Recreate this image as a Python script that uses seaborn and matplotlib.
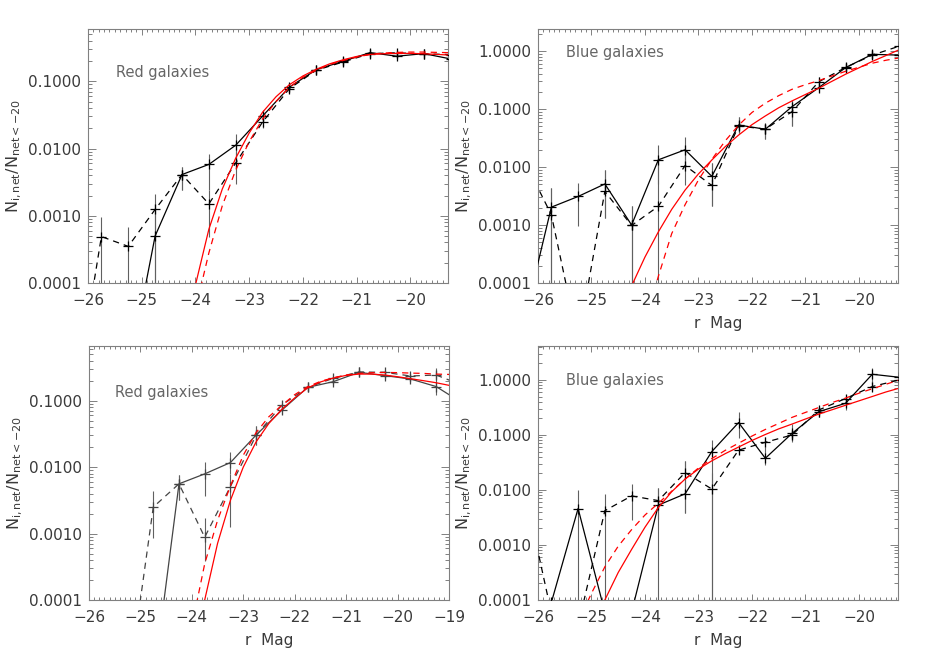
import matplotlib

matplotlib.use('Agg')
import matplotlib.pyplot as plt
from matplotlib.ticker import MultipleLocator, LogLocator, FormatStrFormatter, NullFormatter
import numpy as np
import seaborn as sns

nan = np.nan

# bin centres of the measured fractions
mags = [-26.25, -25.75, -25.25, -24.75, -24.25, -23.75, -23.25, -22.75,
        -22.25, -21.75, -21.25, -20.75, -20.25, -19.75, -19.25, -18.75]

# grid on which the fitted curves are read
fit_mags = [-26.0, -25.75, -25.5, -25.25, -25.0, -24.75, -24.5, -24.25, -24.0,
            -23.75, -23.5, -23.25, -23.0, -22.75, -22.5, -22.25, -22.0, -21.75,
            -21.5, -21.25, -21.0, -20.75, -20.5, -20.25, -20.0, -19.75, -19.5,
            -19.25, -19.0]

# ---- top left: red galaxies
tl_solid = [nan, nan, 4.4e-6, 5.0e-4, 4.1e-3, 5.8e-3, 1.12e-2, 3.04e-2, 8.2e-2, 0.149, 0.199, 0.267, 0.236, 0.258, 0.215, nan]
tl_solid_lo = [nan, nan, nan, 1e-6, 2.4e-3, 2.4e-3, 7.5e-3, 2.6e-2, 6.9e-2, 0.134, 0.18, 0.24, 0.215, 0.235, nan, nan]
tl_solid_hi = [nan, nan, nan, 1.5e-3, 5.3e-3, 8.4e-3, 1.66e-2, 3.7e-2, 9.2e-2, 0.163, 0.218, 0.29, 0.26, 0.28, nan, nan]
tl_dash = [1.7e-6, 4.9e-4, 3.5e-4, 1.24e-3, 4.1e-3, 1.5e-3, 6.1e-3, 2.48e-2, 7.8e-2, 0.146, 0.194, 0.258, 0.265, 0.255, 0.25, nan]
tl_dash_lo = [nan, 1e-6, 1e-6, 1e-6, 2.4e-3, 4.8e-4, 3.0e-3, 2.0e-2, 6.6e-2, 0.13, 0.175, 0.235, 0.23, 0.23, nan, nan]
tl_dash_hi = [nan, 9.5e-4, 6.8e-4, 2.1e-3, 5.3e-3, 2.4e-3, 8.9e-3, 3.1e-2, 9.0e-2, 0.16, 0.212, 0.285, 0.29, 0.28, nan, nan]
tl_fit_solid = [nan, nan, nan, nan, nan, nan, nan, 6.3e-6, 9.3e-5, 6.3e-4, 2.5e-3, 7.2e-3, 0.017, 0.0347, 0.0589,
                0.0891, 0.120, 0.151, 0.182, 0.209, 0.234, 0.251, 0.257, 0.260, 0.260, 0.257, 0.251, 0.245, nan]
tl_fit_dash = [nan, nan, nan, nan, nan, nan, nan, nan, 4e-5, 2.8e-4, 1.41e-3, 4.8e-3, 0.0126, 0.0275, 0.050,
               0.0813, 0.115, 0.146, 0.178, 0.204, 0.229, 0.251, 0.263, 0.269, 0.272, 0.272, 0.269, 0.266, nan]

# ---- top right: blue galaxies
tr_solid = [2.4e-5, 2.03e-3, 3.1e-3, 5.1e-3, 1.0e-3, 1.33e-2, 1.98e-2, 6.9e-3, 5.3e-2, 4.48e-2, 0.110, 0.234, 0.517, 0.877, 0.85, nan]
tr_solid_lo = [nan, 1e-6, 9.5e-4, 1.3e-3, 1e-6, 5e-3, 1.0e-2, 2.1e-3, 3.8e-2, 3.1e-2, 5e-2, 0.2, 0.45, 0.75, nan, nan]
tr_solid_hi = [nan, 4.3e-3, 5.3e-3, 8.9e-3, 2.1e-3, 2.4e-2, 3.35e-2, 1.16e-2, 7.4e-2, 5.7e-2, 0.143, 0.27, 0.6, 1.0, nan, nan]
tr_dash = [1.26e-2, 1.5e-3, 1e-5, 3.8e-3, 9.8e-4, 2.1e-3, 1.06e-2, 4.8e-3, 5.1e-2, 4.5e-2, 9.0e-2, 0.296, 0.52, 0.85, 1.21, nan]
tr_dash_lo = [nan, 1e-6, nan, 1.3e-3, 1e-6, 1e-6, 4.9e-3, 2.1e-3, 3.8e-2, 3.1e-2, 5e-2, 0.25, 0.45, 0.75, nan, nan]
tr_dash_hi = [nan, 4.3e-3, nan, 8.9e-3, 2.1e-3, 1.33e-2, 2.0e-2, 1.16e-2, 7.4e-2, 5.7e-2, 0.143, 0.35, 0.6, 1.0, nan, nan]
tr_fit_solid = [nan, nan, nan, nan, nan, nan, 2.5e-5, 8.9e-5, 2.8e-4, 7.6e-4, 1.86e-3, 4.0e-3, 7.6e-3, 0.0132, 0.0224,
                0.0355, 0.0537, 0.0759, 0.105, 0.138, 0.178, 0.229, 0.302, 0.398, 0.513, 0.661, 0.832, 1.05, nan]
tr_fit_dash = [nan, nan, nan, nan, nan, nan, nan, nan, 2e-5, 1.3e-4, 7.1e-4, 2.24e-3, 6.0e-3, 0.0135, 0.0282,
               0.0525, 0.0871, 0.126, 0.170, 0.219, 0.263, 0.309, 0.372, 0.447, 0.525, 0.617, 0.692, 0.759, nan]

# ---- bottom left: red galaxies
bl_solid = [nan, nan, nan, 5.5e-6, 5.6e-3, 7.9e-3, 1.17e-2, 3.04e-2, 7.2e-2, 0.158, 0.193, 0.267, 0.238, 0.212, 0.163, 0.093]
bl_solid_lo = [nan, nan, nan, nan, 3.2e-3, 3.7e-3, 7.9e-3, 2.15e-2, 6.4e-2, 0.14, 0.17, 0.24, 0.215, 0.19, 0.12, nan]
bl_solid_hi = [nan, nan, nan, nan, 7.6e-3, 1.2e-2, 1.7e-2, 4.1e-2, 9.0e-2, 0.18, 0.225, 0.29, 0.265, 0.24, 0.307, nan]
bl_dash = [nan, nan, 4.1e-6, 2.5e-3, 5.6e-3, 8.8e-4, 5.1e-3, 3.0e-2, 8.6e-2, 0.158, 0.217, 0.27, 0.267, 0.235, 0.243, 0.172]
bl_dash_lo = [nan, nan, nan, 8.5e-4, 3.2e-3, 3.8e-4, 1.27e-3, 2.15e-2, 7e-2, 0.14, 0.19, 0.25, 0.24, 0.21, 0.21, nan]
bl_dash_hi = [nan, nan, nan, 4.3e-3, 7.6e-3, 1.7e-3, 7.9e-3, 4.1e-2, 0.1, 0.18, 0.245, 0.29, 0.29, 0.26, 0.28, nan]
bl_fit_solid = [nan, nan, nan, nan, nan, nan, nan, nan, 1.26e-5, 1e-4, 7.1e-4, 3.16e-3, 0.01, 0.024, 0.0457,
                0.0741, 0.110, 0.155, 0.191, 0.219, 0.240, 0.251, 0.251, 0.243, 0.229, 0.214, 0.2, 0.186, 0.170]
bl_fit_dash = [nan, nan, nan, nan, nan, nan, nan, nan, 4e-5, 3.5e-4, 1.58e-3, 5.2e-3, 0.0151, 0.0331, 0.0575,
               0.0851, 0.123, 0.162, 0.195, 0.221, 0.243, 0.257, 0.263, 0.266, 0.264, 0.260, 0.257, 0.251, 0.248]

# ---- bottom right: blue galaxies
br_solid = [nan, 9e-5, 4.6e-3, 6e-5, 6e-5, 5.3e-3, 8.5e-3, 5.0e-2, 0.168, 3.77e-2, 0.107, 0.265, 0.377, 1.27, 1.12, nan]
br_solid_lo = [nan, nan, 1e-6, nan, nan, 1e-6, 3.8e-3, 1e-6, 0.087, 0.028, 0.076, 0.215, 0.285, 0.66, nan, nan]
br_solid_hi = [nan, nan, 0.01, nan, nan, 0.0107, 0.034, 0.081, 0.265, 0.061, 0.156, 0.327, 0.48, 1.63, nan, nan]
br_dash = [1.0e-2, 5.8e-5, 3.4e-5, 4.2e-3, 7.8e-3, 6.4e-3, 2.07e-2, 1.04e-2, 5.3e-2, 7.36e-2, 0.10, 0.285, 0.46, 0.76, 1.0, nan]
br_dash_lo = [nan, nan, nan, 1e-6, 2.85e-3, 3e-3, 3.8e-3, 1e-6, 0.045, 0.06, 0.08, 0.215, 0.36, 0.62, nan, nan]
br_dash_hi = [nan, nan, nan, 8.3e-3, 0.013, 0.0107, 0.034, 0.02, 0.062, 0.09, 0.125, 0.327, 0.53, 0.95, nan, nan]
br_fit_solid = [nan, nan, nan, nan, 1.6e-5, 1e-4, 3.16e-4, 8.3e-4, 2.1e-3, 4.8e-3, 9.3e-3, 0.0158, 0.024, 0.0339, 0.0457,
                0.0603, 0.0794, 0.102, 0.129, 0.158, 0.195, 0.240, 0.288, 0.347, 0.417, 0.501, 0.603, 0.708, nan]
br_fit_dash = [nan, nan, nan, 4e-5, 1.32e-4, 4e-4, 9.5e-4, 1.9e-3, 3.5e-3, 5.75e-3, 9.5e-3, 0.0158, 0.0251, 0.0372, 0.0525,
               0.0708, 0.0955, 0.126, 0.162, 0.209, 0.257, 0.316, 0.389, 0.468, 0.575, 0.692, 0.832, 1.0, nan]

text_col = '#3a3a3a'
frame_col = '#808080'


def err_bars(ax, lo, hi):
    x = np.array(mags)
    lo = np.array(lo)
    hi = np.array(hi)
    ok = ~np.isnan(lo) & ~np.isnan(hi)
    ax.vlines(x[ok], lo[ok], hi[ok], color='#606060', lw=0.8, zorder=2)


def draw_panel(ax, solid, solid_lo, solid_hi, dash, dash_lo, dash_hi,
               fit_solid, fit_dash, label, xmax, ymax, line_col, label_pos, xlabel=True):
    ax.set_yscale('log')
    err_bars(ax, solid_lo, solid_hi)
    err_bars(ax, dash_lo, dash_hi)

    sns.lineplot(x=mags, y=solid, ax=ax, color=line_col, lw=0.9, marker='+', ms=6.5,
                 mew=0.9, mec=line_col, estimator=None, sort=False, zorder=3)
    sns.lineplot(x=mags, y=dash, ax=ax, color=line_col, lw=0.9, linestyle=(0, (5, 4)),
                 marker='+', ms=6.5, mew=0.9, mec=line_col, estimator=None, sort=False, zorder=3)
    sns.lineplot(x=fit_mags, y=fit_solid, ax=ax, color='#ff0000', lw=0.9,
                 estimator=None, sort=False, zorder=4)
    sns.lineplot(x=fit_mags, y=fit_dash, ax=ax, color='#ff0000', lw=0.9, linestyle=(0, (5, 4)),
                 estimator=None, sort=False, zorder=4)

    ax.set_xlim(-26, xmax)
    ax.set_ylim(1e-4, ymax)
    ax.xaxis.set_major_locator(MultipleLocator(1))
    ax.xaxis.set_minor_locator(MultipleLocator(0.1))
    ax.yaxis.set_major_locator(LogLocator(base=10))
    ax.yaxis.set_minor_locator(LogLocator(base=10, subs=np.arange(2, 10)))
    ax.yaxis.set_major_formatter(FormatStrFormatter('%.4f'))
    ax.yaxis.set_minor_formatter(NullFormatter())

    ax.tick_params(which='both', direction='in', top=True, right=True,
                   color=frame_col, labelcolor=text_col, labelsize=11, width=0.7)
    ax.tick_params(axis='x', which='major', length=4, pad=7)
    ax.tick_params(axis='x', which='minor', length=2)
    ax.tick_params(axis='y', which='major', length=6, pad=5)
    ax.tick_params(axis='y', which='minor', length=3)
    for sp in ax.spines.values():
        sp.set_color(frame_col)
        sp.set_linewidth(0.8)

    ax.set_ylabel(r'$\mathregular{N_{i,net}/N_{net{<}{-}20}}$', fontsize=11.5, color=text_col, labelpad=3)
    if xlabel:
        ax.set_xlabel('r  Mag', fontsize=11, color=text_col, labelpad=6)
    else:
        ax.set_xlabel('')
    ax.text(label_pos[0], label_pos[1], label, transform=ax.transAxes, fontsize=10.5,
            color='#666666', va='center', ha='left')


sns.set_style('ticks')
plt.rcParams['font.family'] = ['DejaVu Sans']
plt.rcParams['axes.unicode_minus'] = True

fig = plt.figure(figsize=(9.25, 6.57), dpi=100)
ax_tl = fig.add_axes([0.0951, 0.5693, 0.3892, 0.3866])
ax_tr = fig.add_axes([0.5816, 0.5693, 0.3892, 0.3866])
ax_bl = fig.add_axes([0.0962, 0.0868, 0.3892, 0.3866])
ax_br = fig.add_axes([0.5816, 0.0868, 0.3892, 0.3866])

draw_panel(ax_tl, tl_solid, tl_solid_lo, tl_solid_hi, tl_dash, tl_dash_lo, tl_dash_hi,
           tl_fit_solid, tl_fit_dash, 'Red galaxies', -19.3, 0.6, 'black', (0.078, 0.827), xlabel=False)
draw_panel(ax_tr, tr_solid, tr_solid_lo, tr_solid_hi, tr_dash, tr_dash_lo, tr_dash_hi,
           tr_fit_solid, tr_fit_dash, 'Blue galaxies', -19.27, 2.4, 'black', (0.078, 0.909))
draw_panel(ax_bl, bl_solid, bl_solid_lo, bl_solid_hi, bl_dash, bl_dash_lo, bl_dash_hi,
           bl_fit_solid, bl_fit_dash, 'Red galaxies', -19.0, 0.665, '#444444', (0.072, 0.815))
draw_panel(ax_br, br_solid, br_solid_lo, br_solid_hi, br_dash, br_dash_lo, br_dash_hi,
           br_fit_solid, br_fit_dash, 'Blue galaxies', -19.27, 4.15, 'black', (0.078, 0.866))

plt.savefig('out.png', dpi=100)
plt.close()
